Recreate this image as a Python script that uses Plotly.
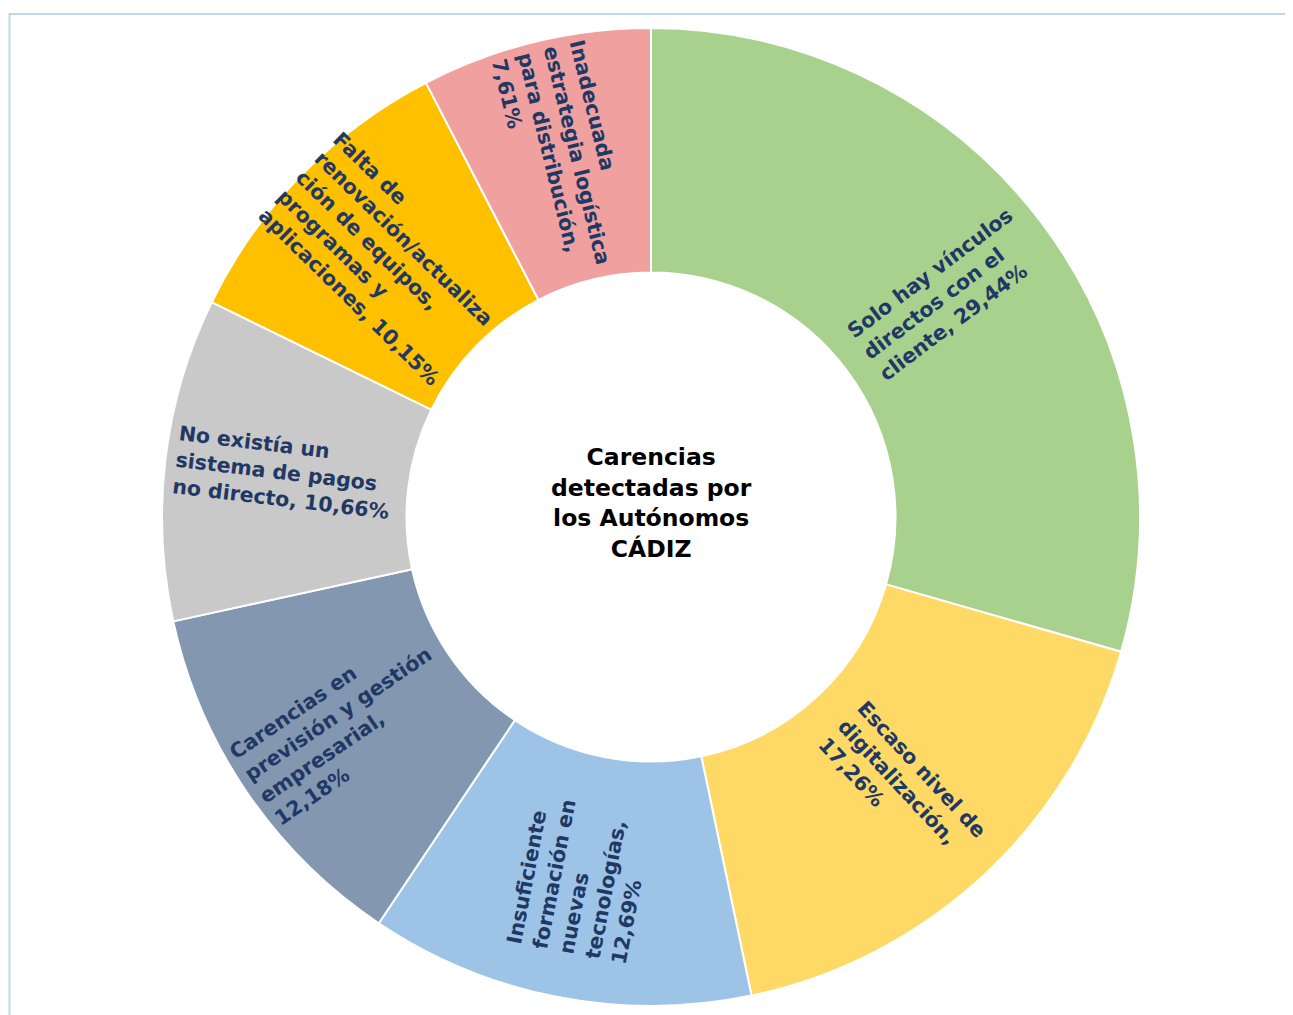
import math
import plotly.graph_objects as go

# Carencias detectadas por los autónomos - Cádiz
labels = [
    "Solo hay vínculos<br>directos con el<br>cliente",
    "Escaso nivel de<br>digitalización",
    "Insuficiente<br>formación en<br>nuevas<br>tecnologías",
    "Carencias en<br>previsión y gestión<br>empresarial",
    "No existía un<br>sistema de pagos<br>no directo",
    "Falta de<br>renovación/actualiza<br>ción de equipos,<br>programas y<br>aplicaciones",
    "Inadecuada<br>estrategia logística<br>para distribución",
]
values = [29.44, 17.26, 12.69, 12.18, 10.66, 10.15, 7.61]
colors = ["#A9D18E", "#FFD966", "#9DC3E6", "#8497B0", "#C9C9C9", "#FFC000", "#F0A09E"]

# label + percentage; some labels break before the number
breaks = [False, True, True, True, False, False, True]
texts = []
for lab, v, br in zip(labels, values, breaks):
    num = f"{v:.2f}".replace(".", ",") + "%"
    texts.append(lab + (",<br>" if br else ", ") + num)

FONT = "DejaVu Sans, Century Gothic, sans-serif"
W, H = 1285, 1007          # page body keeps an 8px margin
CX, CY, R = 643, 509, 489  # pie centre / radius in figure pixels

fig = go.Figure()
fig.add_trace(go.Pie(
    labels=[l.replace("<br>", " ") for l in labels],
    values=values,
    textinfo="none",
    marker=dict(colors=colors, line=dict(color="white", width=2)),
    hole=0.5,
    sort=False,
    direction="clockwise",
    rotation=0,
    showlegend=False,
    domain=dict(x=[(CX - R) / W, (CX + R) / W], y=[1 - (CY + R) / H, 1 - (CY - R) / H]),
))

# radial slice labels, placed at each slice's mid angle
total = sum(values)
cum = 0
for t, v in zip(texts, values):
    theta = 360 * (cum + v / 2) / total
    cum += v
    rad = math.radians(theta)
    r = 0.755 * R
    ang = theta - 90 if theta <= 180 else theta - 270
    fig.add_annotation(
        x=(CX + r * math.sin(rad)) / W, y=1 - (CY - r * math.cos(rad)) / H,
        xref="paper", yref="paper", xanchor="center", yanchor="middle",
        showarrow=False, text=t, textangle=ang, align="left",
        font=dict(family=FONT, size=20.5, color="#1F3864", weight="bold"),
    )

fig.add_annotation(
    x=CX / W, y=1 - (CY - 14) / H, xref="paper", yref="paper",
    xanchor="center", yanchor="middle", showarrow=False,
    text="<b>Carencias<br>detectadas por<br>los Autónomos<br>CÁDIZ</b>",
    font=dict(family=FONT, size=23.5, color="#000000"),
)

# light blue chart frame (cropped at right/bottom)
fig.add_shape(type="rect", xref="paper", yref="paper",
              x0=1.5 / W, x1=1284 / W, y0=-0.02, y1=1 - 6 / H,
              line=dict(color="#BDD7EE", width=2))

fig.update_layout(
    width=W, height=H,
    margin=dict(l=0, r=0, t=0, b=0),
    paper_bgcolor="white",
    plot_bgcolor="white",
)

fig.write_html("out.html")
